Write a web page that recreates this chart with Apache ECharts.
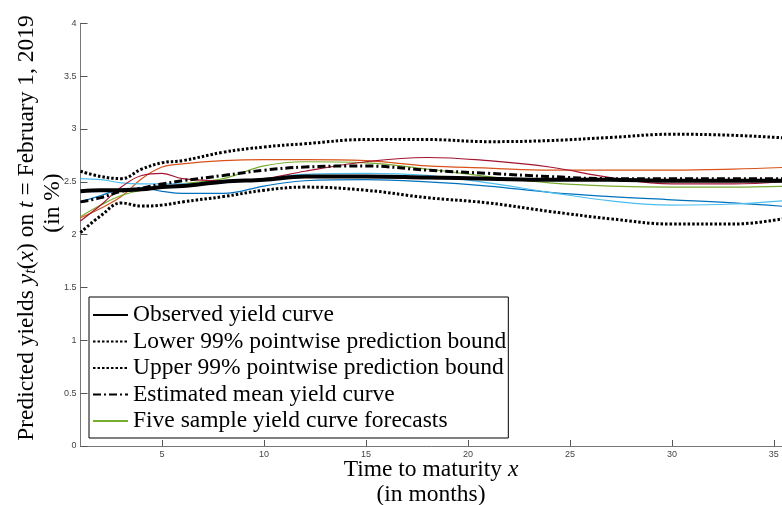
<!DOCTYPE html>
<html>
<head>
<meta charset="utf-8" />
<title>Yield curve forecasts</title>
<script src="https://cdn.jsdelivr.net/npm/echarts@6/dist/echarts.min.js"></script>
<style>
html, body, #main { margin: 0; padding: 0; width: 782px; height: 505px; background: #fff; }
</style>
</head>
<body>
<div id="main"></div>
<script>
// maturities (months) and curve values (in %)
var months   = [1, 2, 3, 4, 5, 6, 8, 10, 12, 15, 18, 21, 24, 27, 30, 33, 36];
var observed = [2.41, 2.42, 2.42, 2.43, 2.45, 2.46, 2.50, 2.52, 2.55, 2.55, 2.54, 2.53, 2.52, 2.52, 2.51, 2.51, 2.51];
var lower    = [2.02, 2.18, 2.30, 2.27, 2.28, 2.31, 2.36, 2.42, 2.45, 2.42, 2.35, 2.30, 2.22, 2.15, 2.10, 2.10, 2.17];
var upper    = [2.60, 2.55, 2.53, 2.62, 2.68, 2.70, 2.78, 2.83, 2.86, 2.90, 2.90, 2.88, 2.89, 2.92, 2.95, 2.94, 2.91];
var meanCurve= [2.31, 2.35, 2.41, 2.44, 2.48, 2.51, 2.56, 2.61, 2.64, 2.65, 2.61, 2.58, 2.55, 2.53, 2.53, 2.53, 2.53];
var sampleBlue  = [2.31, 2.37, 2.43, 2.44, 2.41, 2.39, 2.39, 2.46, 2.51, 2.52, 2.50, 2.46, 2.40, 2.36, 2.33, 2.30, 2.26];
var sampleOrange= [2.16, 2.25, 2.36, 2.53, 2.64, 2.67, 2.70, 2.71, 2.71, 2.70, 2.65, 2.63, 2.61, 2.61, 2.61, 2.62, 2.64];
var sampleGreen = [2.17, 2.28, 2.37, 2.42, 2.44, 2.48, 2.53, 2.65, 2.69, 2.68, 2.62, 2.55, 2.49, 2.46, 2.45, 2.45, 2.46];
var sampleCyan  = [2.53, 2.52, 2.49, 2.48, 2.48, 2.48, 2.50, 2.53, 2.57, 2.58, 2.56, 2.49, 2.40, 2.32, 2.28, 2.29, 2.33];
var sampleRed   = [2.13, 2.28, 2.45, 2.56, 2.58, 2.53, 2.51, 2.53, 2.60, 2.69, 2.73, 2.70, 2.64, 2.54, 2.48, 2.48, 2.51];
var xTicks = [5, 10, 15, 20, 25, 30, 35];

var serif = "'Liberation Serif', 'DejaVu Serif', serif";
var fs = 23.5;

function pts(arr) {
  return months.map(function (m, i) { return [m, arr[i]]; });
}

function line(name, arr, color, width, type, z) {
  return {
    name: name,
    type: 'line',
    data: pts(arr),
    smooth: 0.4,
    symbol: 'none',
    z: z,
    lineStyle: { color: color, width: width, type: type, cap: 'butt' },
    itemStyle: { color: color }
  };
}

var chart = echarts.init(document.getElementById('main'));

var option = {
  animation: false,
  grid: { left: 80.5, right: 0, top: 23.3, bottom: 59 },
  xAxis: {
    type: 'value',
    min: 1,
    max: 35.4,
    axisLine: { lineStyle: { color: '#777', width: 1 } },
    axisTick: { inside: true, length: 6, customValues: xTicks, lineStyle: { color: '#555' } },
    axisLabel: { customValues: xTicks, fontSize: 9, color: '#444', margin: 4, fontFamily: 'Liberation Sans' },
    splitLine: { show: false }
  },
  yAxis: {
    type: 'value',
    min: 0,
    max: 4,
    interval: 0.5,
    axisLine: { show: true, lineStyle: { color: '#777', width: 1 } },
    axisTick: { show: true, inside: true, length: 7, lineStyle: { color: '#555' } },
    axisLabel: { fontSize: 9, color: '#444', margin: 4, fontFamily: 'Liberation Sans' },
    splitLine: { show: false }
  },
  legend: {
    orient: 'vertical',
    left: 89,
    top: 297,
    padding: [6, 2, 5, 3],
    itemGap: 2.5,
    itemWidth: 35,
    itemHeight: 14,
    borderColor: '#000',
    borderWidth: 1,
    borderRadius: 0,
    backgroundColor: '#fff',
    itemStyle: { opacity: 0 },
    textStyle: { fontFamily: serif, fontSize: fs, color: '#000' },
    data: [
      'Observed yield curve',
      'Lower 99% pointwise prediction bound',
      'Upper 99% pointwise prediction bound',
      'Estimated mean yield curve',
      'Five sample yield curve forecasts'
    ]
  },
  series: [
    line('sample blue', sampleBlue, '#0072BD', 1.2, 'solid', 2),
    line('sample orange', sampleOrange, '#D95319', 1.2, 'solid', 2),
    line('Five sample yield curve forecasts', sampleGreen, '#77AC30', 1.2, 'solid', 2),
    line('sample cyan', sampleCyan, '#4DBEEE', 1.2, 'solid', 2),
    line('sample red', sampleRed, '#A2142F', 1.2, 'solid', 2),
    line('Lower 99% pointwise prediction bound', lower, '#000', 3, [2.5, 2], 3),
    line('Upper 99% pointwise prediction bound', upper, '#000', 3, [2.5, 2], 3),
    line('Estimated mean yield curve', meanCurve, '#000', 3, [8, 3, 2, 3], 3),
    line('Observed yield curve', observed, '#000', 4, 'solid', 4)
  ],
  graphic: [
    {
      type: 'text',
      x: 27, y: 228,
      rotation: Math.PI / 2,
      style: {
        text: '{n|Predicted yields }{i|y}{s|t}{n|(}{i|x}{n|) on }{i|t}{n| = February 1, 2019}',
        align: 'center',
        verticalAlign: 'middle',
        fill: '#000',
        rich: {
          n: { fontFamily: serif, fontSize: fs, fill: '#000' },
          i: { fontFamily: serif, fontSize: fs, fontStyle: 'italic', fill: '#000' },
          s: { fontFamily: serif, fontSize: 16, fontStyle: 'italic', fill: '#000', verticalAlign: 'bottom' }
        }
      }
    },
    {
      type: 'text',
      x: 53, y: 203,
      rotation: Math.PI / 2,
      style: {
        text: '(in %)',
        font: fs + 'px ' + serif,
        align: 'center',
        verticalAlign: 'middle',
        fill: '#000'
      }
    },
    {
      type: 'text',
      x: 431, y: 470,
      style: {
        text: '{n|Time to maturity }{i|x}',
        align: 'center',
        verticalAlign: 'middle',
        rich: {
          n: { fontFamily: serif, fontSize: fs, fill: '#000' },
          i: { fontFamily: serif, fontSize: fs, fontStyle: 'italic', fill: '#000' }
        }
      }
    },
    {
      type: 'text',
      x: 431, y: 495,
      style: {
        text: '(in months)',
        font: fs + 'px ' + serif,
        align: 'center',
        verticalAlign: 'middle',
        fill: '#000'
      }
    }
  ]
};

chart.setOption(option);
</script>
</body>
</html>
